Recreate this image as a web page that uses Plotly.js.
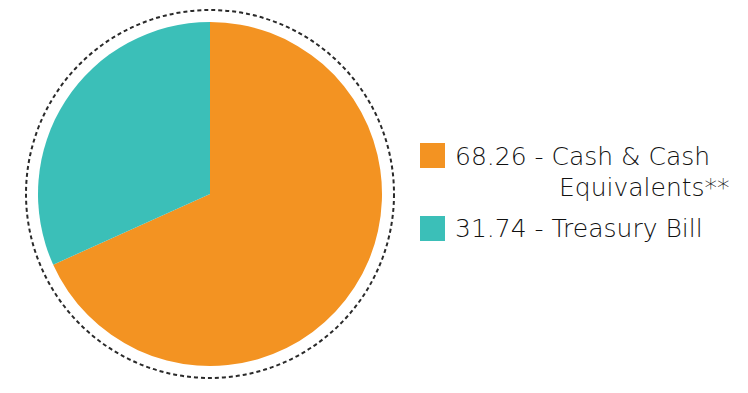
<!DOCTYPE html>
<html>
<head>
<meta charset="utf-8">
<script src="https://cdn.plot.ly/plotly-3.0.1.min.js"></script>
<style>html,body{margin:0;padding:0;background:#fff;}#chart{width:748px;height:393px;}</style>
</head>
<body>
<div id="chart"></div>
<script>
const categories = ["Cash & Cash Equivalents**", "Treasury Bill"];
const values = [68.26, 31.74];
const colors = ["#F39322", "#3BBFB8"];
const legendLines = [["68.26 - Cash & Cash", "Equivalents**"], ["31.74 - Treasury Bill"]];

const W = 748, H = 393;
const px = x => x / W;
const py = y => (H - y) / H;

const trace = {
  type: "pie",
  labels: categories,
  values: values,
  sort: false,
  direction: "clockwise",
  rotation: 0,
  marker: {colors: colors, line: {width: 0}},
  textinfo: "none",
  hoverinfo: "none",
  domain: {x: [px(38), px(382)], y: [py(366), py(22)]},
  showlegend: false
};

const shapes = [{
  type: "circle", xref: "paper", yref: "paper",
  x0: px(26), x1: px(394), y0: py(378), y1: py(10),
  line: {color: "#2a2a2a", width: 2, dash: "4px,3px"}
}];
const annotations = [];
const font = {family: "'DejaVu Sans', 'Open Sans', sans-serif", size: 25, color: "#111", weight: 200};
const rows = [[143, 166, 197], [216, 238]];
legendLines.forEach((lines, i) => {
  const top = rows[i][0];
  shapes.push({
    type: "rect", xref: "paper", yref: "paper",
    x0: px(420), x1: px(445), y0: py(top + 25), y1: py(top),
    fillcolor: colors[i], line: {width: 0}
  });
  lines.forEach((t, j) => {
    annotations.push({
      xref: "paper", yref: "paper",
      x: px(j === 0 ? 453 : 557), y: py(rows[i][j + 1] + 7),
      xanchor: "left", yanchor: "bottom",
      text: t, showarrow: false, font: font
    });
  });
});

Plotly.newPlot("chart", [trace], {
  width: W, height: H,
  margin: {l: 0, r: 0, t: 0, b: 0},
  paper_bgcolor: "#fff", plot_bgcolor: "#fff",
  shapes: shapes, annotations: annotations
}, {displayModeBar: false, staticPlot: true});
</script>
</body>
</html>
